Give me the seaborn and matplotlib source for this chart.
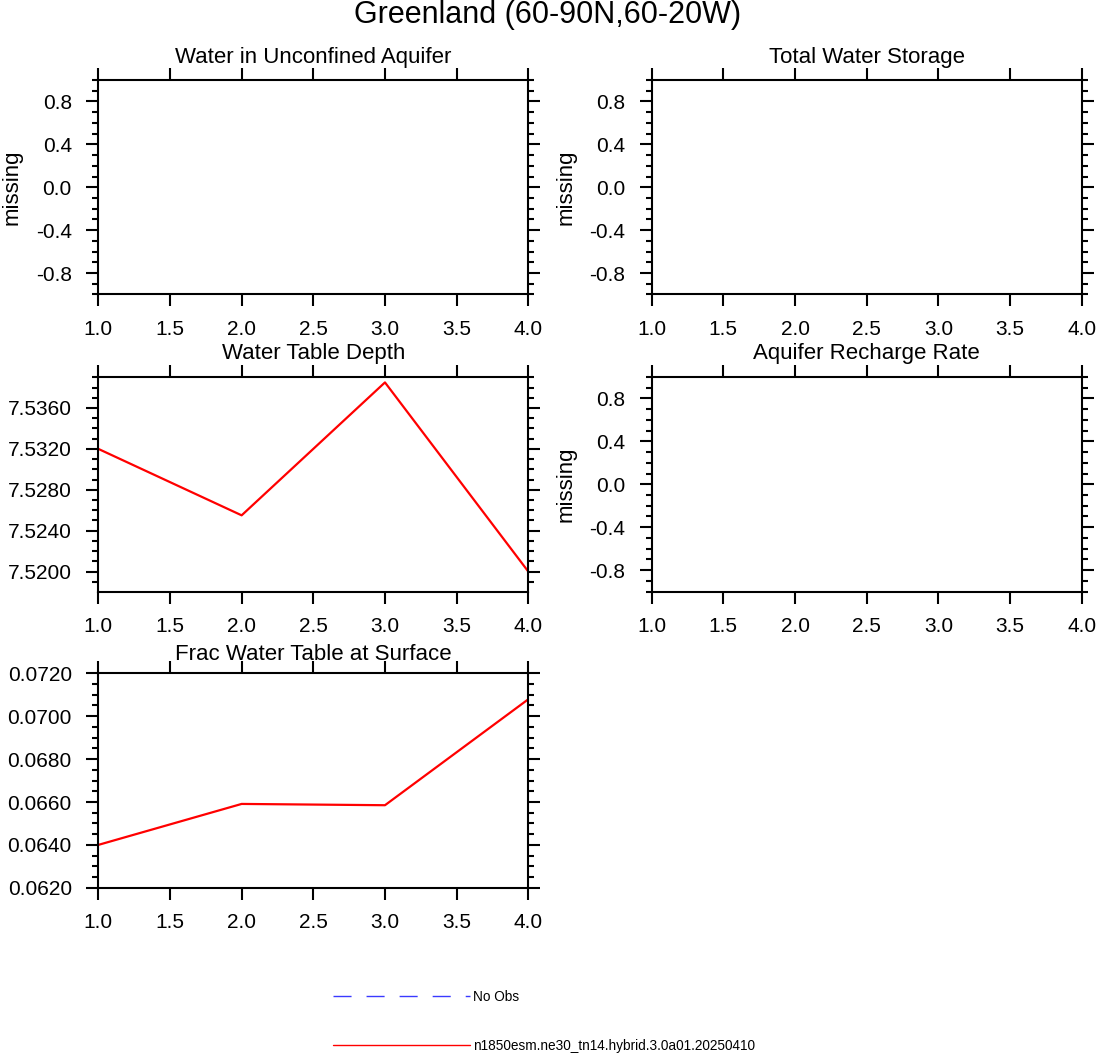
import numpy as np
import pandas as pd
import matplotlib
matplotlib.use("Agg")
import matplotlib.pyplot as plt
import seaborn as sns
from matplotlib.ticker import MultipleLocator, FormatStrFormatter
from matplotlib.lines import Line2D

# ---------------- data ----------------
main_title = "Greenland (60-90N,60-20W)"
panel_titles = ["Water in Unconfined Aquifer", "Total Water Storage",
                "Water Table Depth", "Aquifer Recharge Rate",
                "Frac Water Table at Surface"]
x_years = [1, 2, 3, 4]
wtd_values = [7.5320, 7.5255, 7.5385, 7.5200]
frac_values = [0.06400, 0.06591, 0.06585, 0.07079]
model_label = "n1850esm.ne30_tn14.hybrid.3.0a01.20250410"
obs_label = "No Obs"
missing_label = "missing"

# ---------------- style ----------------
sns.set_style("white")
plt.rcParams["font.family"] = ["Liberation Sans", "DejaVu Sans"]
plt.rcParams["axes.linewidth"] = 1.5
for k in ["text.color", "axes.labelcolor", "xtick.color", "ytick.color", "axes.edgecolor"]:
    plt.rcParams[k] = "black"

W, H = 1096, 1053
fig = plt.figure(figsize=(W / 100, H / 100), dpi=100)


def rect(l, t, w, h):
    return [l / W, 1 - (t + h) / H, w / W, h / H]


lefts = [98.3, 651.7]
tops = [80, 377, 673.3]
AW, AH = 430, 214.5

positions = [(lefts[0], tops[0]), (lefts[1], tops[0]),
             (lefts[0], tops[1]), (lefts[1], tops[1]),
             (lefts[0], tops[2])]

title_offsets = [23, 23, 23, 23, 19]

axes = []
for i, (l, t) in enumerate(positions):
    ax = fig.add_axes(rect(l, t, AW, AH))
    axes.append(ax)
    for s in ax.spines.values():
        s.set_linewidth(1.5)
        s.set_color("black")
    fig.text((l + AW / 2) / W, 1 - (t - title_offsets[i]) / H, panel_titles[i],
             ha="center", va="center", fontsize=16, color="black")

# empty panels (no data available)
for idx in [0, 1, 3]:
    ax = axes[idx]
    ax.set_ylim(-1, 1)
    ax.set_yticks([-0.8, -0.4, 0.0, 0.4, 0.8])
    ax.yaxis.set_minor_locator(MultipleLocator(0.1))
    ax.yaxis.set_major_formatter(FormatStrFormatter("%.1f"))
    ax.set_ylabel(missing_label, fontsize=16, va="center", color="black")
    ax.yaxis.set_label_coords(-86 / AW, 0.5)

# Water Table Depth
df_wtd = pd.DataFrame({"x": x_years, "y": wtd_values})
ax = axes[2]
sns.lineplot(data=df_wtd, x="x", y="y", ax=ax, color="red", linewidth=1.6)
ax.set_ylim(7.51805, 7.53903)
ax.set_yticks([7.5200, 7.5240, 7.5280, 7.5320, 7.5360])
ax.yaxis.set_minor_locator(MultipleLocator(0.001))
ax.yaxis.set_major_formatter(FormatStrFormatter("%.4f"))
ax.set_ylabel("")

# Frac Water Table at Surface
df_frac = pd.DataFrame({"x": x_years, "y": frac_values})
ax = axes[4]
sns.lineplot(data=df_frac, x="x", y="y", ax=ax, color="red", linewidth=1.6)
ax.set_ylim(0.0620, 0.0720)
ax.set_yticks([0.0620, 0.0640, 0.0660, 0.0680, 0.0700, 0.0720])
ax.yaxis.set_minor_locator(MultipleLocator(0.0005))
ax.yaxis.set_major_formatter(FormatStrFormatter("%.4f"))
ax.set_ylabel("")

for ax in axes:
    ax.set_xlim(1, 4)
    ax.xaxis.set_major_locator(MultipleLocator(0.5))
    ax.xaxis.set_major_formatter(FormatStrFormatter("%.1f"))
    ax.set_xlabel("")
    ax.tick_params(axis="both", which="both", direction="out",
                   left=True, bottom=True, top=True, right=True,
                   labelleft=True, labelbottom=True,
                   labeltop=False, labelright=False,
                   width=1.5, color="black", labelcolor="black", labelsize=15)
    ax.tick_params(axis="both", which="major", length=8.6)
    ax.tick_params(axis="y", which="minor", length=4.3)
    ax.tick_params(axis="x", which="major", pad=9.5)
    ax.tick_params(axis="y", which="major", pad=10.5)

# main title
fig.text(0.5, 1 - 15 / H, main_title, ha="center", va="center", fontsize=22, color="black")

# legend
fs = 9.8
handles = [Line2D([], [], color="#3a3aff", linewidth=1.0, linestyle=(0, (13, 10.8))),
           Line2D([], [], color="red", linewidth=1.0)]
fig.legend(handles, [obs_label, model_label], loc="upper left",
           bbox_to_anchor=(333 / W, 1 - 990 / H), frameon=False,
           fontsize=fs, handlelength=137 / (fs * 100 / 72), handletextpad=0.2,
           labelspacing=2.55, borderpad=0, borderaxespad=0)

fig.savefig("out.png", dpi=100)
